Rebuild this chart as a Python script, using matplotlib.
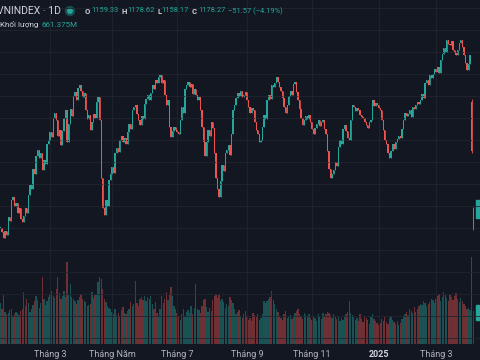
import numpy as np
import pandas as pd
import matplotlib
matplotlib.use('Agg')
import matplotlib.pyplot as plt
from matplotlib.patches import Rectangle, Ellipse

# daily closes, VNINDEX, 10 Jan 2024 .. 4 Apr 2025 (trading days)
closes = [
    # Jan 2024
    1160, 1156, 1151, 1157, 1154, 1170, 1166, 1185, 1188, 1180, 1183, 1174, 1178, 1168, 1165, 1171,
    # Feb
    1178, 1174, 1190, 1199, 1195, 1214, 1209, 1225, 1231, 1224, 1228, 1213, 1222, 1218, 1236, 1240,
    # Mar
    1247, 1243, 1260, 1265, 1258, 1244, 1249, 1235, 1248, 1260, 1267, 1238, 1255, 1268, 1262, 1280,
    1284, 1276, 1287, 1290, 1285,
    # Apr
    1279, 1283, 1267, 1259, 1263, 1249, 1256, 1264, 1260, 1275, 1279, 1258, 1205, 1178, 1172, 1185,
    1180, 1204, 1209,
    # May
    1215, 1210, 1228, 1233, 1229, 1240, 1244, 1238, 1242, 1236, 1247, 1255, 1250, 1267, 1270, 1272,
    1264, 1258, 1254, 1262, 1259, 1273,
    # Jun
    1277, 1281, 1276, 1283, 1290, 1286, 1295, 1292, 1297, 1299, 1292, 1295, 1281, 1272, 1276, 1252,
    1243, 1248, 1252, 1249,
    # Jul
    1247, 1245, 1258, 1270, 1265, 1286, 1290, 1293, 1288, 1291, 1282, 1286, 1281, 1276, 1279, 1267,
    1252, 1238, 1225, 1238, 1249, 1244, 1256,
    # Aug
    1251, 1228, 1205, 1195, 1188, 1203, 1217, 1212, 1228, 1231, 1235, 1226, 1245, 1267, 1272, 1278,
    1283, 1280, 1285, 1279, 1281, 1284,
    # Sep
    1276, 1270, 1265, 1269, 1267, 1256, 1249, 1245, 1238, 1240, 1252, 1263, 1259, 1276, 1281, 1277,
    1290, 1288, 1292,
    # Oct
    1297, 1293, 1288, 1285, 1278, 1270, 1265, 1272, 1280, 1285, 1281, 1291, 1293, 1284, 1276, 1268,
    1260, 1254, 1258, 1262, 1259, 1263, 1256,
    # Nov
    1250, 1245, 1251, 1255, 1258, 1253, 1256, 1258, 1250, 1245, 1230, 1214, 1205, 1209, 1213, 1220,
    1216, 1234, 1240, 1236, 1250,
    # Dec
    1254, 1248, 1242, 1240, 1258, 1272, 1270, 1266, 1269, 1267, 1263, 1261, 1260, 1256, 1254, 1251,
    1256, 1258, 1276, 1271, 1274, 1272,
    # Jan 2025
    1269, 1267, 1258, 1249, 1240, 1236, 1228, 1224, 1230, 1236, 1232, 1238, 1241, 1244, 1242, 1250,
    1258,
    # Feb
    1265, 1262, 1264, 1267, 1261, 1270, 1268, 1272, 1275, 1273, 1276, 1282, 1278, 1292, 1295, 1290,
    1299, 1296, 1300, 1305,
    # Mar
    1302, 1306, 1301, 1313, 1318, 1324, 1320, 1331, 1327, 1326, 1330, 1322, 1319, 1317, 1322, 1328,
    1331, 1325, 1317, 1310, 1304,
    # Apr
    1309, 1317, 1229.84, 1178.27,
]

# volume, millions of shares
volumes = [
    820, 700, 980, 640, 600, 620, 680, 700, 560, 600, 640, 620, 580, 660, 700, 1040,
    760, 900, 820, 640, 700, 780, 860, 960, 880, 720, 820, 1340, 900, 780, 860, 940,
    1000, 1060, 960, 920, 1100, 1340, 1020, 900, 960, 1060, 940, 1640, 1000, 1200, 940, 900,
    860, 800, 880, 940, 1000,
    900, 860, 840, 760, 780, 800, 1040, 920, 980, 1000, 1240, 1340, 1300, 1100, 900, 840,
    760, 720, 700,
    640, 600, 700, 580, 620, 560, 680, 740, 620, 600, 660, 700, 840, 760, 800, 1260,
    820, 760, 900, 940, 880, 960,
    860, 940, 900, 960, 800, 700, 840, 620, 560, 700, 960, 820, 900, 1040, 880, 1000,
    1140, 960, 760, 700,
    620, 560, 480, 600, 700, 560, 640, 680, 620, 760, 600, 720, 1200, 700, 680, 620,
    760, 880, 900, 740, 640, 720, 660,
    880, 960, 1000, 920, 980, 860, 900, 840, 720, 800, 760, 940, 880, 820, 700, 600,
    640, 680, 560, 520, 600, 660,
    560, 480, 520, 460, 620, 580, 540, 600, 480, 520, 600, 860, 820, 860, 900, 940,
    1060, 880, 800,
    700, 640, 560, 520, 480, 600, 660, 520, 560, 580, 500, 540, 620, 660, 700, 600,
    560, 500, 620, 580, 540, 600, 520,
    480, 560, 520, 460, 600, 540, 500, 620, 560, 600, 640, 620, 580, 520, 600, 560,
    500, 540, 460, 520, 480,
    560, 600, 640, 860, 620, 580, 540, 480, 520, 460, 600, 500, 440, 560, 520, 480,
    400, 540, 600, 500, 460, 420,
    380, 420, 500, 460, 540, 440, 400, 520, 560, 480, 440, 400, 460, 380, 420, 500,
    560,
    600, 640, 580, 700, 660, 620, 740, 640, 700, 760, 800, 780, 860, 820, 760, 800,
    840, 900, 880, 820,
    900, 960, 1000, 860, 940, 1040, 980, 920, 860, 1000, 940, 880, 960, 1020, 900, 840,
    920, 860, 800, 760, 700,
    720, 680, 1740, 661.375,
]

# the two last sessions opened with a gap
gap_opens = {304: 1275.0, 305: 1159.33}
gap_highs = {304: 1277.0, 305: 1178.62}
gap_lows = {304: 1228.5, 305: 1158.17}

holidays = ['2024-02-08', '2024-02-09', '2024-02-12', '2024-02-13', '2024-02-14',
            '2024-04-18', '2024-04-29', '2024-04-30', '2024-05-01',
            '2024-09-02', '2024-09-03', '2025-01-01',
            '2025-01-27', '2025-01-28', '2025-01-29', '2025-01-30', '2025-01-31']

tick_months = ['2024-03', '2024-05', '2024-07', '2024-09', '2024-11', '2025-01', '2025-03']
tick_labels = ['Tháng 3', 'Tháng Năm', 'Tháng 7', 'Tháng 9', 'Tháng 11', '2025', 'Tháng 3']

BG = '#161a25'
UP = '#26a69a'
DOWN = '#ef5350'
TXT = '#d1d4dc'

plt.rcParams['font.family'] = ['Roboto', 'DejaVu Sans']

days = pd.bdate_range('2024-01-10', '2025-04-30')
days = days[~days.isin(pd.to_datetime(holidays))][:len(closes)]
x = np.arange(len(closes))

c = np.array(closes, dtype=float)
o = np.r_[c[0], c[:-1]]
for i, v in gap_opens.items():
    o[i] = v
hi = np.maximum(o, c)
lo = np.minimum(o, c)
for i, v in gap_highs.items():
    hi[i] = v
for i, v in gap_lows.items():
    lo[i] = v

up = c >= o
cols = np.where(up, UP, DOWN)

fig = plt.figure(figsize=(4.8, 3.6), dpi=100, facecolor='#131722')
ax = fig.add_axes([0, 16 / 360, 1, 344 / 360])
ax2 = ax.twinx()
ax.set_zorder(ax2.get_zorder() + 1)
ax.patch.set_visible(False)
ax2.set_facecolor(BG)

# volume underneath
ax2.bar(x, volumes, width=0.85, color=cols, alpha=0.42, linewidth=0)
ax2.set_ylim(0, 344 * 20)
ax2.set_yticks([])

# candles
body = np.maximum(np.abs(c - o), 0.8)
ax.vlines(x, lo, hi, colors=cols, linewidth=0.6)
ax.bar(x, body, bottom=np.minimum(o, c), width=0.85, color=cols, linewidth=0)

ax.set_xlim(-0.3, 309.4)
ax.set_ylim(1054.5, 1367.3)
ax.set_yticks(np.arange(1060, 1370, 20))
ax.set_yticklabels([])
ax.tick_params(axis='y', length=0)

tick_pos = [int(np.argmax(days >= pd.Timestamp(m + '-01'))) for m in tick_months]
ax.set_xticks(tick_pos)
ax.set_xticklabels(tick_labels, fontsize=6.5, color='#b2b5be')
for lab in ax.get_xticklabels():
    if lab.get_text() == '2025':
        lab.set_fontweight('bold')
        lab.set_color(TXT)
ax.tick_params(axis='x', length=0, pad=4)
ax.grid(True, color='#21252f', linewidth=0.6)
for a in (ax, ax2):
    for s in a.spines.values():
        s.set_visible(False)

# header
def ftext(px, py, s, **kw):
    fig.text(px / 480, 1 - py / 360, s, va='center', ha='left', **kw)

ftext(-3, 11, 'VNINDEX · 1D', fontsize=7.5, color=TXT)
fig.add_artist(Ellipse((70 / 480, 1 - 11 / 360), 9 / 480, 9 / 360, color=UP, alpha=0.3,
                       transform=fig.transFigure))
fig.add_artist(Ellipse((70 / 480, 1 - 11 / 360), 4.5 / 480, 4.5 / 360, color=UP,
                       transform=fig.transFigure))
for lx, letter, vx, val in [(85, 'O', 91.5, '1159.33'), (121, 'H', 127, '1178.62'),
                            (157, 'L', 161.5, '1158.17'), (192, 'C', 198, '1178.27')]:
    ftext(lx, 11, letter, fontsize=5.5, color=TXT, fontweight='bold')
    ftext(vx, 11, val, fontsize=5.4, color=UP)
ftext(228, 11, '−51.57 (−4.19%)', fontsize=5.4, color=UP)
ftext(0, 25, 'Khối lượng', fontsize=5.8, color=TXT)
ftext(41, 25, '661.375M', fontsize=5.8, color=UP)

# price / volume labels cut by the right edge
fig.add_artist(Rectangle((476 / 480, 1 - 218 / 360), 6 / 480, 18 / 360, color=UP,
                         transform=fig.transFigure))
fig.add_artist(Rectangle((476 / 480, 1 - 320 / 360), 6 / 480, 15 / 360, color=UP,
                         transform=fig.transFigure))

fig.savefig('out.png', dpi=100, facecolor=fig.get_facecolor())
